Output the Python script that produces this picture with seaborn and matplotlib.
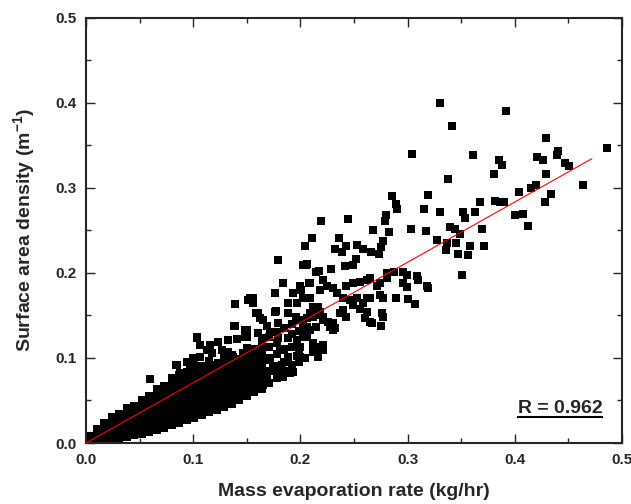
import numpy as np
import pandas as pd
import matplotlib
matplotlib.use("Agg")
import matplotlib.pyplot as plt
import seaborn as sns

# ---- data (x = mass evaporation rate kg/hr, y = surface area density 1/m)
upper_points = [
    (0.330,0.400),(0.341,0.373),(0.392,0.390),(0.304,0.340),(0.361,0.338),(0.429,0.359),
    (0.486,0.347),(0.440,0.343),(0.439,0.338),(0.385,0.332),(0.388,0.327),(0.421,0.336),
    (0.426,0.332),(0.447,0.329),(0.451,0.325),(0.429,0.316),(0.381,0.316),(0.338,0.310),
    (0.464,0.303),(0.415,0.300),(0.420,0.303),(0.404,0.295),(0.434,0.293),(0.428,0.283),
    (0.382,0.284),(0.386,0.283),(0.390,0.283),(0.368,0.283),(0.319,0.291),(0.285,0.290),
    (0.289,0.281),(0.290,0.275),(0.280,0.268),(0.279,0.261),(0.315,0.275),(0.330,0.272),
    (0.352,0.272),(0.354,0.264),(0.363,0.272),(0.400,0.268),(0.408,0.269),(0.412,0.255),
    (0.219,0.261),(0.244,0.263),(0.268,0.250),(0.283,0.248),(0.303,0.251),(0.317,0.249),
    (0.340,0.254),(0.344,0.252),(0.349,0.246),(0.369,0.251),(0.327,0.239),(0.211,0.241),
    (0.236,0.241),(0.277,0.237),(0.204,0.232),(0.243,0.232),(0.253,0.233),(0.345,0.235),
    (0.337,0.235),(0.358,0.232),(0.371,0.232),(0.275,0.230),(0.232,0.228),(0.239,0.224),
    (0.258,0.228),(0.266,0.224),(0.273,0.222),(0.347,0.222),(0.356,0.221),(0.336,0.227),
    (0.351,0.197),
]

middle_points = [
    (0.252,0.216),(0.249,0.209),(0.242,0.208),(0.205,0.209),(0.217,0.202),(0.229,0.204),
    (0.281,0.200),(0.287,0.201),(0.296,0.201),(0.299,0.197),(0.309,0.196),(0.310,0.191),
    (0.318,0.185),(0.319,0.182),(0.296,0.188),(0.299,0.183),(0.289,0.170),(0.300,0.169),
    (0.307,0.163),(0.281,0.194),(0.274,0.188),(0.271,0.185),(0.265,0.194),(0.262,0.191),
    (0.256,0.189),(0.249,0.188),(0.243,0.185),(0.221,0.191),(0.225,0.185),(0.230,0.182),
    (0.208,0.188),(0.205,0.171),(0.234,0.176),(0.240,0.171),(0.246,0.168),(0.249,0.162),
    (0.253,0.170),(0.262,0.171),(0.265,0.170),(0.258,0.165),(0.274,0.174),(0.277,0.171),
    (0.256,0.158),(0.262,0.154),(0.260,0.147),(0.276,0.153),(0.277,0.148),(0.275,0.137),
    (0.265,0.142),(0.267,0.141),(0.240,0.156),(0.243,0.148),(0.237,0.153),(0.212,0.160),
    (0.209,0.153),(0.206,0.147),(0.202,0.138),(0.218,0.154),(0.221,0.148),(0.226,0.142),
    (0.230,0.141),(0.200,0.185),(0.201,0.180),(0.200,0.101),(0.218,0.109),(0.216,0.101),
    (0.212,0.113),(0.202,0.129),(0.209,0.133),(0.221,0.115),(0.232,0.135),(0.218,0.150),
    (0.209,0.171),(0.202,0.171),(0.218,0.180),(0.216,0.160),(0.212,0.148),(0.206,0.136),
    (0.202,0.124),(0.200,0.113),(0.221,0.144),(0.228,0.136),(0.230,0.133),(0.218,0.113),
    (0.221,0.109),
]

lower_points = [
    (0.060,0.075),(0.084,0.092),(0.104,0.123),(0.139,0.163),(0.138,0.137),(0.151,0.168),
    (0.156,0.170),(0.179,0.215),(0.202,0.209),(0.206,0.210),(0.215,0.201),(0.176,0.176),
    (0.184,0.188),(0.193,0.176),(0.200,0.183),(0.209,0.188),(0.188,0.165),(0.197,0.164),
    (0.202,0.170),(0.176,0.154),(0.160,0.153),(0.165,0.144),(0.150,0.133),(0.148,0.124),
    (0.193,0.083),(0.184,0.077),(0.178,0.076),(0.165,0.068),(0.156,0.066),(0.150,0.062),
    (0.141,0.050),(0.132,0.047),(0.122,0.042),(0.153,0.170),(0.156,0.164),(0.159,0.153),
    (0.162,0.147),(0.177,0.155),(0.169,0.138),(0.179,0.141),(0.188,0.153),(0.196,0.148),
    (0.206,0.147),(0.215,0.150),(0.215,0.136),(0.139,0.138),(0.148,0.133),(0.150,0.124),
    (0.160,0.129),(0.164,0.123),(0.172,0.130),(0.179,0.123),(0.188,0.123),(0.197,0.121),
    (0.206,0.124),(0.212,0.117),(0.104,0.124),(0.106,0.115),(0.116,0.115),(0.123,0.119),
    (0.132,0.121),(0.141,0.122),(0.113,0.109),(0.118,0.106),(0.127,0.109),(0.132,0.107),
    (0.137,0.101),(0.146,0.106),(0.156,0.109),(0.162,0.101),(0.172,0.097),(0.181,0.109),
    (0.188,0.101),(0.197,0.102),(0.204,0.100),(0.212,0.107),(0.085,0.092),(0.094,0.095),
    (0.100,0.100),(0.106,0.101),(0.088,0.082),(0.097,0.086),(0.106,0.089),(0.116,0.092),
    (0.123,0.094),(0.134,0.094),(0.144,0.092),(0.153,0.092),(0.162,0.089),(0.174,0.089),
    (0.183,0.092),(0.190,0.082),(0.178,0.077),(0.169,0.080),(0.162,0.072),(0.100,0.070),
    (0.116,0.070),(0.132,0.072),(0.141,0.066),(0.150,0.070),(0.160,0.066),
]

band_points = [
    (0.003,0.002),(0.003,0.008),
    (0.010,0.003),(0.010,0.010),(0.010,0.016),
    (0.017,0.004),(0.017,0.011),(0.017,0.018),(0.017,0.024),
    (0.024,0.005),(0.024,0.012),(0.024,0.019),(0.024,0.026),(0.024,0.030),
    (0.031,0.006),(0.031,0.013),(0.031,0.020),(0.031,0.027),(0.031,0.034),
    (0.038,0.007),(0.038,0.014),(0.038,0.021),(0.038,0.028),(0.038,0.035),(0.038,0.041),
    (0.045,0.009),(0.045,0.016),(0.045,0.023),(0.045,0.030),(0.045,0.037),(0.045,0.044),
    (0.052,0.011),(0.052,0.018),(0.052,0.025),(0.052,0.032),(0.052,0.039),(0.052,0.046),(0.052,0.051),
    (0.059,0.013),(0.059,0.020),(0.059,0.027),(0.059,0.034),(0.059,0.041),(0.059,0.048),(0.059,0.055),
    (0.066,0.015),(0.066,0.022),(0.066,0.029),(0.066,0.036),(0.066,0.043),(0.066,0.050),(0.066,0.058),(0.066,0.064),
    (0.073,0.018),(0.073,0.025),(0.073,0.032),(0.073,0.039),(0.073,0.046),(0.073,0.053),(0.073,0.060),(0.073,0.067),
    (0.080,0.021),(0.080,0.028),(0.080,0.035),(0.080,0.042),(0.080,0.049),(0.080,0.056),(0.080,0.063),(0.080,0.070),(0.080,0.076),
    (0.087,0.024),(0.087,0.031),(0.087,0.038),(0.087,0.045),(0.087,0.052),(0.087,0.059),(0.087,0.066),(0.087,0.073),(0.087,0.080),
    (0.094,0.027),(0.094,0.034),(0.094,0.041),(0.094,0.048),(0.094,0.055),(0.094,0.062),(0.094,0.069),(0.094,0.076),(0.094,0.083),
    (0.101,0.029),(0.101,0.036),(0.101,0.043),(0.101,0.050),(0.101,0.057),(0.101,0.064),(0.101,0.071),(0.101,0.078),(0.101,0.086),(0.101,0.093),
    (0.108,0.033),(0.108,0.040),(0.108,0.047),(0.108,0.054),(0.108,0.061),(0.108,0.068),(0.108,0.075),(0.108,0.082),(0.108,0.090),
    (0.115,0.036),(0.115,0.043),(0.115,0.050),(0.115,0.057),(0.115,0.064),(0.115,0.071),(0.115,0.078),(0.115,0.085),(0.115,0.096),
    (0.122,0.039),(0.122,0.046),(0.122,0.053),(0.122,0.060),(0.122,0.067),(0.122,0.074),(0.122,0.081),(0.122,0.088),
    (0.129,0.042),(0.129,0.049),(0.129,0.056),(0.129,0.063),(0.129,0.070),(0.129,0.077),(0.129,0.084),(0.129,0.091),(0.129,0.100),
    (0.136,0.046),(0.136,0.053),(0.136,0.060),(0.136,0.067),(0.136,0.074),(0.136,0.081),(0.136,0.088),(0.136,0.095),(0.136,0.103),
    (0.143,0.050),(0.143,0.057),(0.143,0.064),(0.143,0.071),(0.143,0.078),(0.143,0.085),(0.143,0.092),(0.143,0.099),
    (0.150,0.055),(0.150,0.062),(0.150,0.069),(0.150,0.076),(0.150,0.083),(0.150,0.090),(0.150,0.097),(0.150,0.104),(0.150,0.112),
    (0.157,0.060),(0.157,0.067),(0.157,0.074),(0.157,0.081),(0.157,0.088),(0.157,0.095),(0.157,0.102),(0.157,0.110),
    (0.164,0.064),(0.164,0.071),(0.164,0.078),(0.164,0.085),(0.164,0.092),(0.164,0.099),(0.164,0.106),(0.164,0.115),
    (0.171,0.070),(0.171,0.085),(0.171,0.100),(0.171,0.113),(0.171,0.125),
    (0.178,0.082),(0.178,0.090),(0.178,0.105),(0.178,0.118),(0.178,0.130),
    (0.185,0.085),(0.185,0.095),(0.185,0.110),(0.185,0.135),
    (0.192,0.092),(0.192,0.113),(0.192,0.128),(0.192,0.140),
    (0.199,0.095),(0.199,0.108),(0.199,0.132),(0.199,0.145),
]

fit_slope = 0.708
fit_intercept = 0.0
fit_x_range = [0.0, 0.472]
r_label = "R = 0.962"

x_ticks = [0.0, 0.1, 0.2, 0.3, 0.4, 0.5]
y_ticks = [0.0, 0.1, 0.2, 0.3, 0.4, 0.5]

all_pts = upper_points + middle_points + lower_points + band_points
df = pd.DataFrame(all_pts, columns=["rate", "density"])

sns.set_style("ticks")
plt.rcParams["font.family"] = ["Liberation Sans", "DejaVu Sans"]
plt.rcParams["font.weight"] = "bold"
plt.rcParams["mathtext.fontset"] = "custom"
plt.rcParams["mathtext.rm"] = "Liberation Sans:bold"
plt.rcParams["mathtext.bf"] = "Liberation Sans:bold"

fig = plt.figure(figsize=(6.31, 5.04), dpi=100)
ax = fig.add_axes([0.1363, 0.1210, 0.8494, 0.8442])

sns.scatterplot(data=df, x="rate", y="density", marker="s", s=33, color="black",
                linewidth=0, ax=ax, zorder=2)

fx = np.array(fit_x_range)
sns.lineplot(x=fx, y=fit_slope * fx + fit_intercept, color="red", linewidth=0.8, ax=ax, zorder=3)

ax.set_xlim(0, 0.5)
ax.set_ylim(0, 0.5)
ax.set_xticks(x_ticks)
ax.set_yticks(y_ticks)
ax.set_xticklabels([f"{v:.1f}" for v in x_ticks])
ax.set_yticklabels([f"{v:.1f}" for v in y_ticks])
ax.xaxis.set_minor_locator(matplotlib.ticker.MultipleLocator(0.05))
ax.yaxis.set_minor_locator(matplotlib.ticker.MultipleLocator(0.05))
ax.tick_params(which="major", direction="in", length=6.5, width=1.0, top=True, right=True,
               labelsize=11, pad=7)
ax.tick_params(which="minor", direction="in", length=3.6, width=1.0, top=True, right=True)
for lab in ax.get_xticklabels() + ax.get_yticklabels():
    lab.set_fontweight("bold")
for sp in ax.spines.values():
    sp.set_linewidth(1.5)
    sp.set_visible(True)

ax.set_xlabel("Mass evaporation rate (kg/hr)", fontsize=14, fontweight="bold", labelpad=12)
ax.set_ylabel("Surface area density (m$^{-1}$)", fontsize=14, fontweight="bold", labelpad=12)

ax.text(0.482, 0.035, r_label, ha="right", va="baseline", fontsize=14, fontweight="bold")
ax.plot([0.402, 0.482], [0.031, 0.031], color="black", linewidth=1.5, solid_capstyle="butt")

fig.savefig("out.png", dpi=100)
